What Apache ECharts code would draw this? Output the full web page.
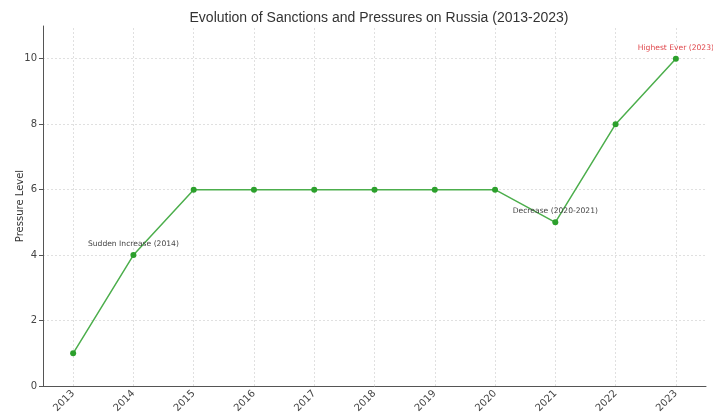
<!DOCTYPE html>
<html>
<head>
<meta charset="utf-8">
<script src="https://cdn.jsdelivr.net/npm/echarts@6/dist/echarts.min.js"></script>
<style>
  html, body { margin: 0; padding: 0; background: #fff; }
  #chart { width: 713px; height: 414px; }
</style>
</head>
<body>
<div id="chart"></div>
<script>
const years = ['2013', '2014', '2015', '2016', '2017', '2018', '2019', '2020', '2021', '2022', '2023']
const pressure = [1, 4, 6, 6, 6, 6, 6, 6, 5, 8, 10]
const noteYears = ['2014', '2021', '2023']
const noteTexts = ['Sudden Increase (2014)', 'Decrease (2020-2021)', 'Highest Ever (2023)']

const noteColors = ['#444', '#444', '#e0474c']
const font = 'DejaVu Sans'

const chart = echarts.init(document.getElementById('chart'))

const seriesData = pressure.map((v, i) => {
  const k = noteYears.indexOf(years[i])
  if (k < 0) return v
  return {
    value: v,
    label: {
      show: true,
      formatter: noteTexts[k],
      position: 'top',
      distance: 4,
      color: noteColors[k],
      fontSize: 7.6,
      fontFamily: font
    }
  }
})

const gridStyle = { color: '#d9d9d9', type: [2, 2], width: 0.8 }

chart.setOption({
  animation: false,
  title: {
    text: 'Evolution of Sanctions and Pressures on Russia (2013-2023)',
    left: 374,
    textAlign: 'center',
    top: 6,
    textStyle: { fontFamily: 'Liberation Sans', fontSize: 14, fontWeight: 'normal', color: '#333' }
  },
  grid: { left: 43, right: 7, top: 26, bottom: 28, outerBoundsMode: 'none' },
  xAxis: {
    type: 'category',
    data: years,
    boundaryGap: true,
    axisLine: { lineStyle: { color: '#555', width: 1 } },
    axisTick: { alignWithLabel: true, length: 4, lineStyle: { color: '#555' } },
    axisLabel: { rotate: 45, fontFamily: font, fontSize: 10, color: '#444', margin: 6 },
    splitLine: { show: false }
  },
  yAxis: {
    type: 'value',
    min: 0,
    max: 11,
    interval: 2,
    name: 'Pressure Level',
    nameLocation: 'middle',
    nameGap: 18,
    nameMoveOverlap: false,
    nameTextStyle: { fontFamily: font, fontSize: 10, color: '#333' },
    axisLine: { show: true, lineStyle: { color: '#555', width: 1 } },
    axisTick: { show: true, length: 4, lineStyle: { color: '#555' } },
    axisLabel: { fontFamily: font, fontSize: 10, color: '#444', showMaxLabel: false, margin: 6 },
    splitLine: { show: true, showMaxLine: false, lineStyle: gridStyle }
  },
  series: [{
    type: 'line',
    data: seriesData,
    symbol: 'circle',
    symbolSize: 6,
    lineStyle: { color: '#4cae4c', width: 1.5 },
    itemStyle: { color: '#2ca02c', borderWidth: 0 },
    markLine: {
      silent: true,
      z: 0,
      symbol: 'none',
      label: { show: false },
      lineStyle: gridStyle,
      data: years.map(y => ({ xAxis: y }))
    },
    z: 3
  }]
})
</script>
</body>
</html>
